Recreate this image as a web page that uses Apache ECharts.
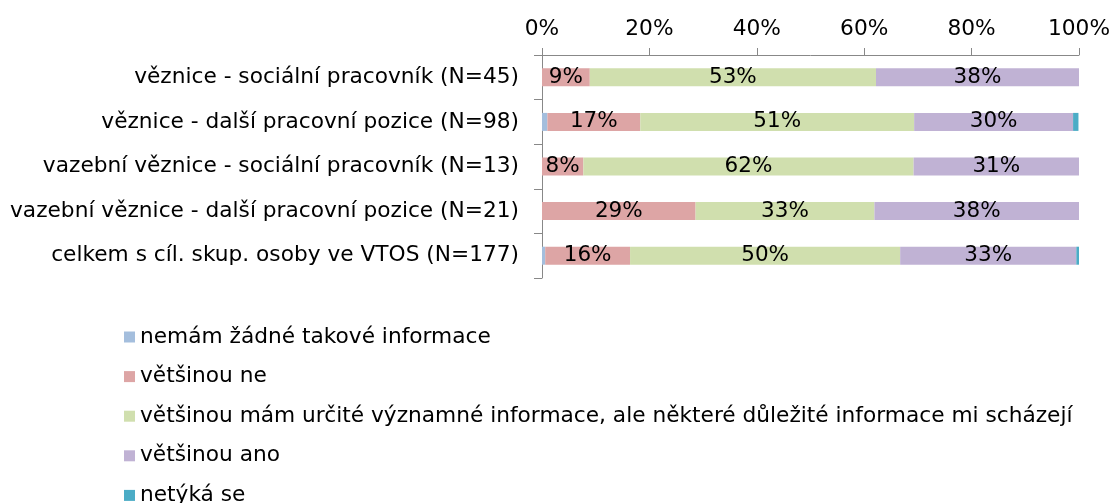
<!DOCTYPE html>
<html>
<head>
<meta charset="utf-8">
<script src="https://cdn.jsdelivr.net/npm/echarts@6/dist/echarts.min.js"></script>
<style>html,body{margin:0;padding:0;background:#fff;overflow:hidden}#c{width:1113px;height:503px}</style>
</head>
<body>
<div id="c"></div>
<script>
const categories = [
  'věznice - sociální pracovník (N=45)',
  'věznice - další pracovní pozice (N=98)',
  'vazební věznice - sociální pracovník (N=13)',
  'vazební věznice - další pracovní pozice (N=21)',
  'celkem s cíl. skup. osoby ve VTOS (N=177)'
];
const seriesNames = [
  'nemám žádné takové informace',
  'většinou ne',
  'většinou mám určité významné informace, ale některé důležité informace mi scházejí',
  'většinou ano',
  'netýká se'
];
const noInfo   = [0, 1.0, 0, 0, 0.6];
const mostlyNo = [8.9, 17.3, 7.7, 28.6, 15.8];
const partial  = [53.3, 51.0, 61.5, 33.3, 50.3];
const mostlyYes= [37.8, 29.6, 30.8, 38.1, 32.8];
const notApplicable = [0, 1.0, 0, 0, 0.6];
const tickLabels = ['0%', '20%', '40%', '60%', '80%', '100%'];

const colors = ['#A4BEDD', '#DDA5A5', '#D0DFAE', '#C0B2D4', '#4BACC6'];
const values = [noInfo, mostlyNo, partial, mostlyYes, notApplicable];
const showLabel = [false, true, true, true, false];
const FONT = '"DejaVu Sans", Verdana, sans-serif';
const FS = 21.7;

const chart = echarts.init(document.getElementById('c'), null, {renderer: 'canvas'});
chart.setOption({
  animation: false,
  textStyle: {fontFamily: FONT},
  grid: {left: 542, right: 31, top: 55, bottom: 225, containLabel: false},
  xAxis: {
    type: 'value', position: 'top', min: 0, max: 100, interval: 20,
    axisLine: {show: true, lineStyle: {color: '#888888', width: 1}},
    axisTick: {show: true, length: 7, lineStyle: {color: '#888888'}},
    splitLine: {show: false},
    axisLabel: {
      margin: 15, fontSize: FS, color: '#000', fontFamily: FONT,
      formatter: function (v) { return tickLabels[Math.round(v / 20)]; }
    }
  },
  yAxis: {
    type: 'category', inverse: true, data: categories,
    axisLine: {show: true, lineStyle: {color: '#888888', width: 1}},
    axisTick: {show: true, length: 8, alignWithLabel: false, lineStyle: {color: '#888888'}},
    axisLabel: {margin: 23, fontSize: FS, color: '#000', fontFamily: FONT}
  },
  legend: {
    orient: 'vertical', left: 119, top: 321, height: 260, width: 1000,
    itemWidth: 11, itemHeight: 11, itemGap: 17.6, icon: 'rect',
    textStyle: {fontSize: FS, color: '#000', fontFamily: FONT, lineHeight: 22},
    data: seriesNames
  },
  series: seriesNames.map(function (name, i) {
    return {
      name: name, type: 'bar', stack: 'total', barWidth: 18,
      itemStyle: {color: colors[i]},
      label: {
        show: showLabel[i], position: 'inside', color: '#000', fontSize: 21.5, fontFamily: FONT,
        formatter: function (p) { return p.value > 0 ? Math.round(p.value) + '%' : ''; }
      },
      data: values[i]
    };
  })
});
</script>
</body>
</html>
